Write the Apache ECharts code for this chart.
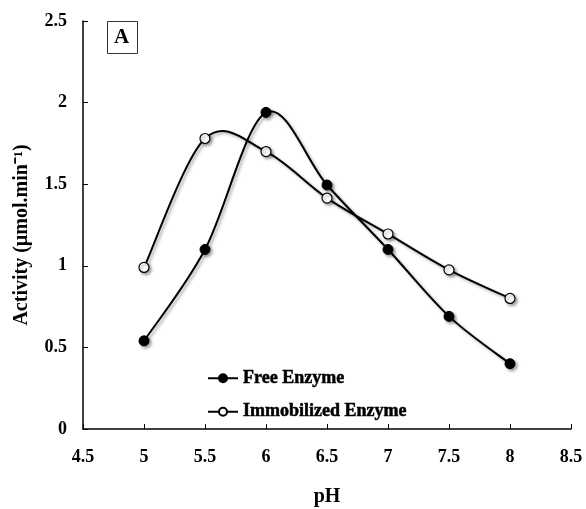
<!DOCTYPE html>
<html>
<head>
<meta charset="utf-8">
<script src="https://cdn.jsdelivr.net/npm/echarts@6/dist/echarts.min.js"></script>
<style>
html,body{margin:0;padding:0;background:#fff;}
#c{width:586px;height:509px;}
</style>
</head>
<body>
<div id="c"></div>
<script>
var pH = [5, 5.5, 6, 6.5, 7, 7.5, 8];
var freeEnzyme = [0.54, 1.10, 1.94, 1.495, 1.10, 0.69, 0.40];
var immobilizedEnzyme = [0.99, 1.78, 1.70, 1.415, 1.195, 0.975, 0.80];
var seriesNames = ['Free Enzyme', 'Immobilized Enzyme'];

var font = '"Liberation Serif", "Times New Roman", serif';
function pairs(xs, ys) { return xs.map(function (x, i) { return [x, ys[i]]; }); }

var shadow = { shadowColor: 'rgba(0,0,0,0.35)', shadowBlur: 3, shadowOffsetX: 2, shadowOffsetY: 2 };

// Smooth curve segment (Catmull-Rom style, like spreadsheet "smoothed line") drawn through the axis scales
function curveRenderer(ys) {
  return function (params, api) {
    var i = params.dataIndex, n = pH.length;
    if (i >= n - 1) return null;
    function P(k) { k = Math.max(0, Math.min(n - 1, k)); return api.coord([pH[k], ys[k]]); }
    var p0 = P(i - 1), p1 = P(i), p2 = P(i + 1), p3 = P(i + 2);
    var t = 1 / 6;
    return {
      type: 'bezierCurve',
      shape: {
        x1: p1[0], y1: p1[1], x2: p2[0], y2: p2[1],
        cpx1: p1[0] + (p2[0] - p0[0]) * t, cpy1: p1[1] + (p2[1] - p0[1]) * t,
        cpx2: p2[0] - (p3[0] - p1[0]) * t, cpy2: p2[1] - (p3[1] - p1[1]) * t
      },
      style: Object.assign({ stroke: '#000', lineWidth: 2, fill: null }, shadow),
      silent: true
    };
  };
}

var chart = echarts.init(document.getElementById('c'));
chart.setOption({
  animation: false,
  backgroundColor: '#fff',
  grid: { left: 83, right: 15, top: 21, bottom: 80, outerBoundsMode: 'none', containLabel: false },
  xAxis: {
    type: 'value', min: 4.5, max: 8.5, interval: 0.5,
    name: 'pH', nameLocation: 'middle', nameGap: 58,
    nameTextStyle: { fontFamily: font, fontWeight: 'bold', fontSize: 20, color: '#000' },
    axisLine: { lineStyle: { color: '#000', width: 1.5 } },
    axisTick: { inside: true, length: 5, lineStyle: { color: '#000', width: 1 } },
    axisLabel: { fontFamily: font, fontWeight: 'bold', fontSize: 18, color: '#000', margin: 19 },
    splitLine: { show: false }
  },
  yAxis: {
    type: 'value', min: 0, max: 2.5, interval: 0.5,
    name: 'Activity (µmol.min⁻¹)', nameLocation: 'middle', nameGap: 51, nameRotate: 90,
    nameTextStyle: { fontFamily: font, fontWeight: 'bold', fontSize: 20, color: '#000', padding: [0, 20, 0, 0] },
    axisLine: { show: true, lineStyle: { color: '#000', width: 1.5 } },
    axisTick: { show: true, inside: true, length: 5, lineStyle: { color: '#000', width: 1 } },
    axisLabel: { fontFamily: font, fontWeight: 'bold', fontSize: 18, color: '#000', margin: 16 },
    splitLine: { show: false }
  },
  legend: {
    orient: 'vertical', left: 202, top: 364, itemGap: 15, itemWidth: 30, itemHeight: 10,
    lineStyle: { color: '#000', width: 2, opacity: 1 },
    textStyle: { fontFamily: font, fontWeight: 'bold', fontSize: 18, color: '#000',
      textBorderColor: '#000', textBorderWidth: 0.5 },
    data: seriesNames
  },
  graphic: [
    { type: 'rect', left: 107, top: 21, shape: { width: 30, height: 32 },
      style: { fill: '#fff', stroke: '#333', lineWidth: 1 }, z: 10 },
    { type: 'text', left: 114, top: 27,
      style: { text: 'A', font: 'bold 21px ' + font, fill: '#000' }, z: 11 }
  ],
  series: [
    {
      name: 'free-curve', type: 'custom', coordinateSystem: 'cartesian2d',
      data: pairs(pH, freeEnzyme), renderItem: curveRenderer(freeEnzyme), z: 2
    },
    {
      name: 'immobilized-curve', type: 'custom', coordinateSystem: 'cartesian2d',
      data: pairs(pH, immobilizedEnzyme), renderItem: curveRenderer(immobilizedEnzyme), z: 2
    },
    {
      name: seriesNames[0], type: 'line', z: 3,
      data: pairs(pH, freeEnzyme),
      symbol: 'circle', symbolSize: 10,
      lineStyle: { color: '#000', width: 2, opacity: 0 },
      itemStyle: Object.assign({ color: '#000', borderColor: '#000', borderWidth: 1 }, shadow)
    },
    {
      name: seriesNames[1], type: 'line', z: 3,
      data: pairs(pH, immobilizedEnzyme),
      symbol: 'circle', symbolSize: 10,
      lineStyle: { color: '#000', width: 2, opacity: 0 },
      itemStyle: Object.assign({ color: '#fff', borderColor: '#000', borderWidth: 1.2 }, shadow)
    }
  ]
});
</script>
</body>
</html>
